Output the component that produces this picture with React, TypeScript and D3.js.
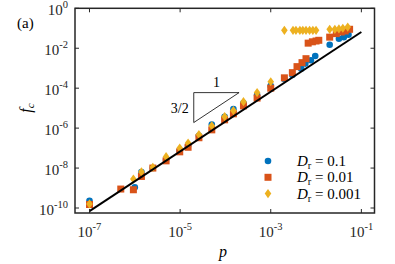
import React from "react";
import * as d3 from "d3";

// D_r = 0.1
const blueP = [1e-7, 1e-6, 1.4e-6, 2.5e-6, 4.9e-6, 9.8e-6, 1.5e-5, 2.6e-5, 5e-5, 9.6e-5, 1.5e-4, 2.5e-4, 5e-4, 1e-3, 2e-3, 3e-3, 4.7e-3, 5.8e-3, 7.7e-3, 9.6e-3, 2e-2, 3.2e-2, 4.1e-2, 5.2e-2];
const blueF = [2.3e-10, 1.1e-9, 6.3e-9, 1e-8, 2.6e-8, 7.3e-8, 1.3e-7, 4.1e-7, 1.5e-6, 3.7e-6, 8.9e-6, 1.8e-5, 4.6e-5, 1.3e-4, 2.9e-4, 4.6e-4, 9.5e-4, 1.7e-3, 2.5e-3, 4.1e-3, 1.5e-2, 3e-2, 3.6e-2, 4.8e-2];

// D_r = 0.01
const orangeP = [1e-7, 4.9e-7, 9.3e-7, 1.4e-6, 2.5e-6, 4.9e-6, 9.8e-6, 1.5e-5, 2.6e-5, 5e-5, 9.6e-5, 1.5e-4, 2.5e-4, 5e-4, 1e-3, 2e-3, 3e-3, 3.8e-3, 4.9e-3, 6e-3, 6.7e-3, 8.3e-3, 1e-2, 1.15e-2, 2e-2, 2.8e-2, 3.6e-2, 4.4e-2, 5.5e-2];
const orangeF = [1.5e-10, 8.9e-10, 8.2e-10, 3.8e-9, 1e-8, 2.3e-8, 6.5e-8, 1.1e-7, 3.3e-7, 8.2e-7, 2.6e-6, 5.2e-6, 1.3e-5, 3.2e-5, 1e-4, 3.3e-4, 6e-4, 1.2e-3, 1.9e-3, 3e-3, 1.8e-2, 2.1e-2, 2.3e-2, 2.5e-2, 3.6e-2, 5.4e-2, 6.5e-2, 7.3e-2, 8.9e-2];

// D_r = 0.001
const yellowP = [1e-7, 9.3e-7, 1.4e-6, 2.5e-6, 4.9e-6, 9.8e-6, 1.5e-5, 2.6e-5, 5e-5, 9.6e-5, 1.5e-4, 2.5e-4, 5e-4, 1e-3, 2e-3, 3.1e-3, 3.6e-3, 4.4e-3, 5.1e-3, 6e-3, 7.2e-3, 8.5e-3, 1e-2, 2e-2, 2.6e-2, 3.2e-2, 3.9e-2, 5e-2];
const yellowF = [1.6e-10, 2.8e-9, 6.5e-9, 1.1e-8, 3.7e-8, 1e-7, 1.8e-7, 4.8e-7, 1.3e-6, 3.8e-6, 7.6e-6, 2.1e-5, 6e-5, 2.1e-4, 7.9e-2, 7.9e-2, 7.9e-2, 7.9e-2, 7.9e-2, 7.9e-2, 7.9e-2, 7.9e-2, 7.9e-2, 8.9e-2, 8.9e-2, 9.3e-2, 1e-1, 1.15e-1];

// p^{3/2} reference line and slope triangle
const fitP = [1e-7, 1e-1];
const fitF = [7e-11, 6.5e-2];
const triP = [2e-5, 2e-4];
const triF = [1.9e-6, 6e-5];

const xTickExp = [-7, -5, -3, -1];
const yTickExp = [0, -2, -4, -6, -8, -10];
const legendLabels = ["0.1", "0.01", "0.001"];

const W = 395;
const H = 264;
const L = 75, R = 374.5, T = 8.3, B = 213;
const FONT = "Liberation Serif";
const BLUE = "#0072BD", ORANGE = "#D95319", YELLOW = "#EDB120";
const AXIS = "#262626";

const x = d3.scaleLog().domain([10 ** -7.32, 10 ** -0.71]).range([L, R]);
const y = d3.scaleLog().domain([10 ** -10.25, 1]).range([B, T]);

const diamond = "M0,-4.6L3.3,0L0,4.6L-3.3,0Z";

const Circle = ({ cx, cy }: { cx: number; cy: number }) => (
  <circle cx={cx} cy={cy} r={3.3} fill={BLUE} />
);
const Square = ({ cx, cy }: { cx: number; cy: number }) => (
  <rect x={cx - 3.5} y={cy - 3.5} width={7} height={7} fill={ORANGE} />
);
const Diamond = ({ cx, cy }: { cx: number; cy: number }) => (
  <path d={diamond} transform={`translate(${cx},${cy})`} fill={YELLOW} />
);

const txt = { fontFamily: FONT };

const App = () => {
  const line = d3
    .line<number>()
    .x((d) => x(fitP[d]))
    .y((d) => y(fitF[d]));

  return (
    <svg
      width={W}
      height={H}
      style={{ position: "absolute", left: 0, top: 0, background: "#fff" }}
    >
      {/* data */}
      {blueP.map((p, i) => (
        <Circle key={"b" + i} cx={x(p)} cy={y(blueF[i])} />
      ))}
      {orangeP.map((p, i) => (
        <Square key={"o" + i} cx={x(p)} cy={y(orangeF[i])} />
      ))}
      {yellowP.map((p, i) => (
        <Diamond key={"y" + i} cx={x(p)} cy={y(yellowF[i])} />
      ))}

      <path d={line([0, 1]) || ""} stroke="#000" strokeWidth={2} fill="none" />

      {/* slope triangle */}
      <path
        d={`M${x(triP[0])},${y(triF[1])}L${x(triP[1])},${y(triF[1])}L${x(triP[0])},${y(triF[0])}Z`}
        stroke="#000"
        strokeWidth={0.8}
        fill="none"
      />
      <text style={txt} x={(x(triP[0]) + x(triP[1])) / 2} y={y(triF[1]) - 6} fontSize={14} textAnchor="middle">
        1
      </text>
      <text style={txt} x={x(triP[0]) - 5} y={(y(triF[0]) + y(triF[1])) / 2 + 5} fontSize={14} textAnchor="end">
        3/2
      </text>

      {/* axes box */}
      <rect x={L} y={T} width={R - L} height={B - T} fill="none" stroke={AXIS} strokeWidth={1.5} />
      {xTickExp.map((e) => (
        <g key={"xt" + e}>
          <line x1={x(10 ** e)} x2={x(10 ** e)} y1={B} y2={B - 4} stroke={AXIS} strokeWidth={1} />
          <line x1={x(10 ** e)} x2={x(10 ** e)} y1={T} y2={T + 4} stroke={AXIS} strokeWidth={1} />
          <text style={txt} x={x(10 ** e)} y={237} fontSize={15} textAnchor="middle" fill={AXIS}>
            10<tspan fontSize={10.5} dy={-7}>{e}</tspan>
          </text>
        </g>
      ))}
      {yTickExp.map((e) => (
        <g key={"yt" + e}>
          <line x1={L} x2={L + 4} y1={y(10 ** e)} y2={y(10 ** e)} stroke={AXIS} strokeWidth={1} />
          <line x1={R} x2={R - 4} y1={y(10 ** e)} y2={y(10 ** e)} stroke={AXIS} strokeWidth={1} />
          <text style={txt} x={68} y={y(10 ** e) + 7} fontSize={15} textAnchor="end" fill={AXIS}>
            10<tspan fontSize={10.5} dy={-7}>{e}</tspan>
          </text>
        </g>
      ))}

      {/* labels */}
      <text style={txt} x={17} y={28} fontSize={15}>
        (a)
      </text>
      <text style={txt} x={223} y={257} fontSize={16} fontStyle="italic" textAnchor="middle">
        p
      </text>
      <text style={txt} transform="translate(31,108) rotate(-90)" fontSize={16} textAnchor="middle">
        <tspan fontStyle="italic">f</tspan>
        <tspan fontStyle="italic" fontSize={11} dy={3}>c</tspan>
      </text>

      {/* legend */}
      {legendLabels.map((lab, i) => {
        const ly = 161 + i * 16.3;
        return (
          <g key={"lg" + i}>
            {i === 0 && <Circle cx={268} cy={ly} />}
            {i === 1 && <Square cx={268} cy={ly} />}
            {i === 2 && <Diamond cx={268} cy={ly} />}
            <text style={txt} x={297} y={ly + 5} fontSize={15}>
              <tspan fontStyle="italic">D</tspan>
              <tspan fontSize={10.5} dy={3}>r</tspan>
              <tspan dy={-3}>{" = " + lab}</tspan>
            </text>
          </g>
        );
      })}
    </svg>
  );
};

export default App;
